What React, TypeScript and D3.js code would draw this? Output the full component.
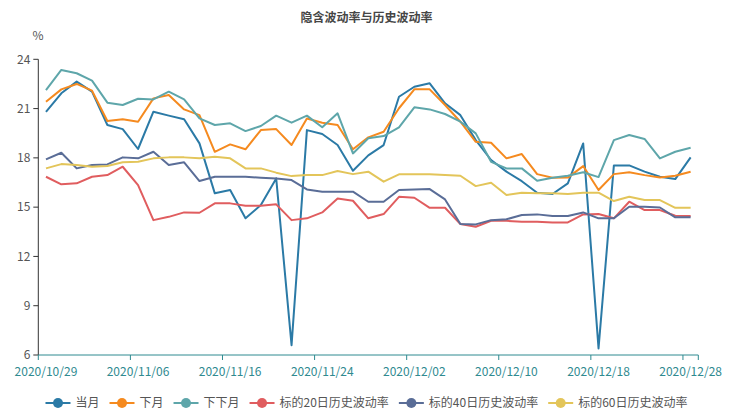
import React, { useEffect, useRef } from "react";
import * as d3 from "d3";

const dates = [
  "2020/10/29","2020/10/30","2020/11/02","2020/11/03","2020/11/04","2020/11/05","2020/11/06",
  "2020/11/09","2020/11/10","2020/11/11","2020/11/12","2020/11/13","2020/11/16","2020/11/17",
  "2020/11/18","2020/11/19","2020/11/20","2020/11/23","2020/11/24","2020/11/25","2020/11/26",
  "2020/11/27","2020/11/30","2020/12/01","2020/12/02","2020/12/03","2020/12/04","2020/12/07",
  "2020/12/08","2020/12/09","2020/12/10","2020/12/11","2020/12/14","2020/12/15","2020/12/16",
  "2020/12/17","2020/12/18","2020/12/21","2020/12/22","2020/12/23","2020/12/24","2020/12/25",
  "2020/12/28",
];

const seriesNames = ["当月", "下月", "下下月", "标的20日历史波动率", "标的40日历史波动率", "标的60日历史波动率"];
const seriesColors = ["#2b7aa6", "#f58a1f", "#5ea6aa", "#e05d5f", "#5a6d97", "#e3c55a"];

const currentMonth = [20.8,21.93,22.64,22.03,20.0,19.75,18.54,20.81,20.57,20.35,18.88,15.84,16.04,14.32,15.13,16.75,6.6,19.69,19.45,18.78,17.22,18.15,18.78,21.72,22.33,22.54,21.32,20.6,19.08,17.87,17.16,16.58,15.88,15.8,16.45,18.88,6.4,17.54,17.54,17.16,16.85,16.71,18.03];
const nextMonth = [21.42,22.17,22.5,22.09,20.24,20.35,20.2,21.62,21.83,20.95,20.6,18.37,18.82,18.52,19.69,19.75,18.78,20.4,20.14,20.0,18.52,19.25,19.59,21.02,22.17,22.17,21.22,20.2,18.98,18.92,17.97,18.23,17.01,16.79,16.8,17.5,16.04,17.01,17.12,16.95,16.81,16.91,17.16];
const farMonth = [22.13,23.35,23.15,22.7,21.36,21.22,21.6,21.56,22.03,21.56,20.4,20.0,20.1,19.63,19.94,20.57,20.14,20.57,19.86,20.71,18.27,19.19,19.33,19.86,21.08,20.95,20.67,20.2,19.49,17.76,17.36,17.36,16.61,16.79,16.91,17.12,16.83,19.08,19.39,19.15,17.97,18.37,18.62];
const hv20 = [16.85,16.39,16.45,16.85,16.95,17.46,16.34,14.21,14.41,14.68,14.66,15.23,15.23,15.09,15.09,15.17,14.21,14.32,14.68,15.53,15.39,14.32,14.58,15.63,15.57,14.96,14.96,13.97,13.81,14.17,14.17,14.11,14.11,14.07,14.07,14.56,14.58,14.32,15.33,14.82,14.82,14.48,14.46];
const hv40 = [17.91,18.31,17.36,17.56,17.6,18.03,17.97,18.37,17.56,17.73,16.59,16.85,16.85,16.85,16.79,16.75,16.65,16.08,15.94,15.94,15.94,15.33,15.33,16.04,16.08,16.1,15.47,13.97,13.95,14.21,14.26,14.52,14.56,14.46,14.46,14.68,14.32,14.32,15.02,15.02,14.98,14.38,14.38];
const hv60 = [17.36,17.62,17.56,17.46,17.5,17.73,17.76,17.97,18.03,18.03,17.97,18.07,17.97,17.36,17.36,17.1,16.89,16.95,16.95,17.2,17.01,17.16,16.55,17.0,17.0,17.0,16.96,16.91,16.28,16.49,15.74,15.88,15.84,15.84,15.8,15.88,15.88,15.37,15.63,15.43,15.43,14.96,14.96];

const allSeries = [currentMonth, nextMonth, farMonth, hv20, hv40, hv60];
const yTicks = [6, 9, 12, 15, 18, 21, 24];
const labelEvery = 6;
const chartTitle = "隐含波动率与历史波动率";
const yUnit = "%";

export default function App() {
  const ref = useRef<SVGSVGElement | null>(null);

  useEffect(() => {
    const svg = d3.select(ref.current);
    svg.selectAll("*").remove();
    const W = 733, H = 410;
    const left = 38.3, right = 698.3, top = 59.3, bottom = 355;
    const font = "'Microsoft YaHei', 'Noto Sans CJK SC', 'Noto Sans', sans-serif";

    const x = d3.scaleBand<string>().domain(dates).range([left, right]).padding(0);
    const y = d3.scaleLinear().domain([6, 24]).range([bottom, top]);
    const bw = x.bandwidth();

    // title
    svg.append("text").attr("x", W / 2).attr("y", 22).attr("text-anchor", "middle")
      .attr("font-family", font).attr("font-size", 12).attr("font-weight", "bold")
      .attr("fill", "#464646").text(chartTitle);

    // y unit
    svg.append("text").attr("x", 38).attr("y", 40).attr("text-anchor", "middle")
      .attr("font-family", font).attr("font-size", 12).attr("fill", "#555").text(yUnit);

    // y axis
    const gy = svg.append("g");
    gy.append("line").attr("x1", left).attr("x2", left).attr("y1", top).attr("y2", bottom)
      .attr("stroke", "#333").attr("stroke-width", 1);
    yTicks.forEach((t) => {
      gy.append("line").attr("x1", left - 5).attr("x2", left).attr("y1", y(t)).attr("y2", y(t))
        .attr("stroke", "#333");
      gy.append("text").attr("x", left - 8).attr("y", y(t)).attr("dy", "0.35em")
        .attr("text-anchor", "end").attr("font-family", font).attr("font-size", 12)
        .attr("fill", "#555").text(String(t));
    });

    // x axis
    const axisColor = "#2f8a90";
    const gx = svg.append("g");
    gx.append("line").attr("x1", left).attr("x2", right).attr("y1", bottom).attr("y2", bottom)
      .attr("stroke", axisColor);
    dates.forEach((d, i) => {
      if (i % labelEvery !== 0) return;
      const bx = x(d) as number;
      gx.append("line").attr("x1", bx).attr("x2", bx).attr("y1", bottom).attr("y2", bottom + 5)
        .attr("stroke", axisColor);
      gx.append("text").attr("x", bx + bw / 2).attr("y", bottom + 17).attr("dy", "0.35em")
        .attr("text-anchor", "middle").attr("font-family", font).attr("font-size", 12)
        .attr("fill", axisColor).text(d);
    });
    gx.append("line").attr("x1", right).attr("x2", right).attr("y1", bottom).attr("y2", bottom + 5)
      .attr("stroke", axisColor);

    // lines
    const line = d3.line<number>()
      .x((_, i) => (x(dates[i]) as number) + bw / 2)
      .y((v) => y(v));
    allSeries.forEach((s, k) => {
      svg.append("path").attr("d", line(s) as string).attr("fill", "none")
        .attr("stroke", seriesColors[k]).attr("stroke-width", 2)
        .attr("stroke-linejoin", "round");
    });

    // legend
    const lg = svg.append("g");
    const itemW = 25, gap = 10, textGap = 5;
    const items: { g: any; w: number }[] = [];
    seriesNames.forEach((name, k) => {
      const g = lg.append("g");
      g.append("line").attr("x1", 0).attr("x2", itemW).attr("y1", 0).attr("y2", 0)
        .attr("stroke", seriesColors[k]).attr("stroke-width", 2);
      g.append("circle").attr("cx", itemW / 2).attr("cy", 0).attr("r", 5)
        .attr("fill", seriesColors[k]);
      const t = g.append("text").attr("x", itemW + textGap).attr("y", 0).attr("dy", "0.35em")
        .attr("font-family", font).attr("font-size", 12).attr("fill", "#555").text(name);
      const tw = (t.node() as SVGTextElement).getComputedTextLength();
      items.push({ g, w: itemW + textGap + tw });
    });
    const total = items.reduce((a, b) => a + b.w, 0) + gap * (items.length - 1);
    let cx = (W - total) / 2;
    items.forEach((it) => {
      it.g.attr("transform", `translate(${cx},403)`);
      cx += it.w + gap;
    });
  }, []);

  return (
    <svg ref={ref} width={733} height={410} style={{ display: "block", position: "absolute", left: 0, top: 0 }} />
  );
}
